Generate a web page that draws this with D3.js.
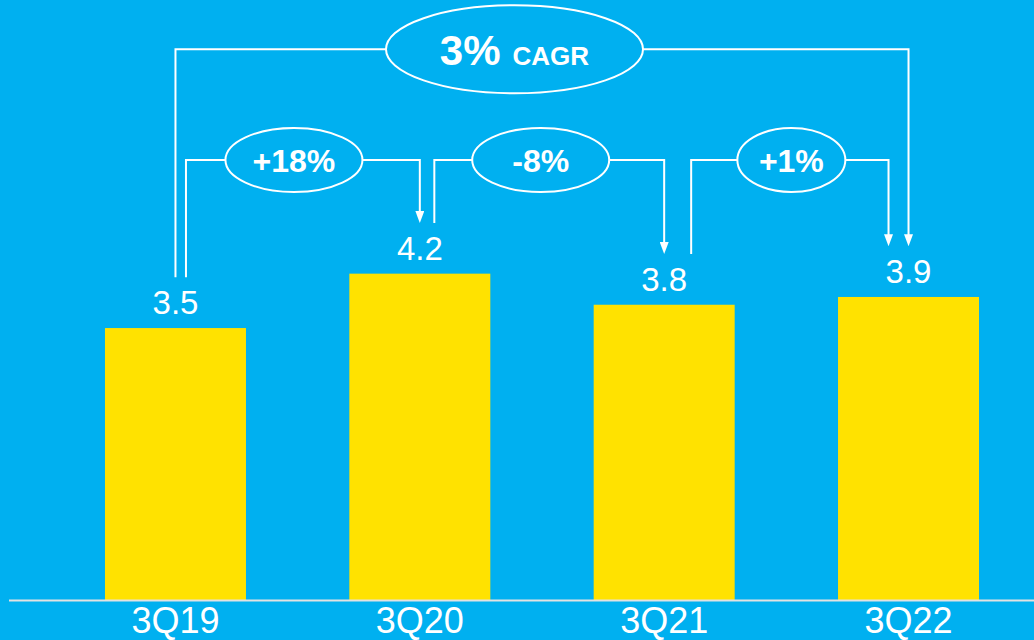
<!DOCTYPE html>
<html>
<head>
<meta charset="utf-8">
<script src="https://cdn.jsdelivr.net/npm/d3@7"></script>
<style>
  html, body { margin: 0; padding: 0; background: #00B0F0; }
  svg { display: block; }
  text { font-family: "Liberation Sans", Arial, sans-serif; fill: #ffffff; }
</style>
</head>
<body>
<svg id="chart" width="1034" height="640"></svg>
<script>
// Quarterly values
const categories = ["3Q19", "3Q20", "3Q21", "3Q22"];
const values = [3.5, 4.2, 3.8, 3.9];

// Year-over-year change callouts: from category index -> to category index
const yoyLabels = ["+18%", "-8%", "+1%"];
const yoyFrom = [0, 1, 2];
const yoyTo = [1, 2, 3];

// Overall growth callout
const cagrValue = "3%";
const cagrUnit = "CAGR";

const W = 1034, H = 640;
const baseY = 600;
const colors = { bg: "#00B0F0", bar: "#FFE200", line: "#ffffff", axis: "#E2E2E2" };

const svg = d3.select("#chart");
svg.append("rect").attr("width", W).attr("height", H).attr("fill", colors.bg);

const x = d3.scaleBand()
  .domain(categories)
  .range([53.3, 1030.7])
  .paddingInner(0.423)
  .paddingOuter(0.2115);

const y = d3.scaleLinear()
  .domain([0, 4.5])
  .range([baseY, baseY - 4.5 * 77.7]);

const cx = c => x(c) + x.bandwidth() / 2;

// Bars
svg.append("g").selectAll("rect")
  .data(categories)
  .join("rect")
  .attr("x", c => x(c))
  .attr("width", x.bandwidth())
  .attr("y", (c, i) => y(values[i]))
  .attr("height", (c, i) => y(0) - y(values[i]))
  .attr("fill", colors.bar);

// Baseline
svg.append("line")
  .attr("x1", 9).attr("x2", W)
  .attr("y1", baseY + 0.5).attr("y2", baseY + 0.5)
  .attr("stroke", colors.axis).attr("stroke-width", 2);

// Category axis labels
const xAxis = d3.axisBottom(x).tickSize(0).tickPadding(0);
const gx = svg.append("g").attr("transform", `translate(0,${baseY})`).call(xAxis);
gx.select(".domain").remove();
gx.selectAll("text")
  .attr("dy", null)
  .attr("y", 33)
  .attr("font-size", 36)
  .attr("fill", "#fff")
  .style("font-family", '"Liberation Sans", Arial, sans-serif');

// Value labels
const labelSize = 33;
const labelBase = i => y(values[i]) - 14;
const labelTop = i => labelBase(i) - labelSize * 0.72;
svg.append("g").selectAll("text")
  .data(categories)
  .join("text")
  .attr("x", c => cx(c))
  .attr("y", (c, i) => labelBase(i))
  .attr("text-anchor", "middle")
  .attr("font-size", labelSize)
  .text((c, i) => values[i].toFixed(1));

// Arrow marker: tip sits at the end of the line
const defs = svg.append("defs");
defs.append("marker")
  .attr("id", "arrow")
  .attr("viewBox", "0 0 9 12")
  .attr("refX", 4.5).attr("refY", 12)
  .attr("markerWidth", 9).attr("markerHeight", 12)
  .attr("markerUnits", "userSpaceOnUse")
  .attr("orient", "0")
  .append("path")
  .attr("d", "M0,0 L9,0 L4.5,12 Z")
  .attr("fill", colors.line);

const gap = 13;
const lineAttrs = sel => sel.attr("fill", "none").attr("stroke", colors.line).attr("stroke-width", 2);

// Callout: start stem -> ellipse -> end stem with arrow
function callout(opts) {
  const g = svg.append("g");
  const { x0, x1, yLine, ecx, rx, ry, y0end, y1end } = opts;
  g.append("path")
    .attr("d", d3.line()([[x0, y0end], [x0, yLine], [ecx - rx, yLine]]))
    .call(lineAttrs);
  g.append("path")
    .attr("d", d3.line()([[ecx + rx, yLine], [x1, yLine], [x1, y1end - 6]]))
    .call(lineAttrs);
  g.append("path")
    .attr("d", d3.line()([[x1, y1end - 7], [x1, y1end]]))
    .attr("stroke", "none")
    .attr("marker-end", "url(#arrow)");
  g.append("ellipse")
    .attr("cx", ecx).attr("cy", yLine)
    .attr("rx", rx).attr("ry", ry)
    .call(lineAttrs);
  return g;
}

// Year-over-year callouts
const yoyStartOffset = [10.5, 14.5, 27];
const yoyEndOffset = [0, 0, -20];
const yoyRx = [68.5, 68.5, 54];
const yoyShift = [-3.7, -1.3, 5];
yoyLabels.forEach((lab, k) => {
  const a = yoyFrom[k], b = yoyTo[k];
  const x0 = cx(categories[a]) + yoyStartOffset[k];
  const x1 = cx(categories[b]) + yoyEndOffset[k];
  const ecx = (cx(categories[a]) + cx(categories[b])) / 2 + yoyShift[k];
  const g = callout({
    x0, x1, yLine: 160, ecx, rx: yoyRx[k], ry: 32,
    y0end: labelTop(a) - gap, y1end: labelTop(b) - gap
  });
  g.append("text")
    .attr("x", ecx).attr("y", 172)
    .attr("text-anchor", "middle")
    .attr("font-size", 32).attr("font-weight", "bold")
    .text(lab);
});

// CAGR callout
{
  const x0 = cx(categories[0]);
  const x1 = cx(categories[categories.length - 1]);
  const ecx = 514.5;
  const g = callout({
    x0, x1, yLine: 49.3, ecx, rx: 128.5, ry: 44,
    y0end: labelTop(0) - gap, y1end: labelTop(categories.length - 1) - gap
  });
  const t = g.append("text")
    .attr("x", ecx).attr("y", 65)
    .attr("text-anchor", "middle")
    .attr("font-weight", "bold");
  t.append("tspan").attr("font-size", 42).text(cagrValue);
  t.append("tspan").attr("font-size", 26).attr("dx", 12).text(cagrUnit);
}
</script>
</body>
</html>
